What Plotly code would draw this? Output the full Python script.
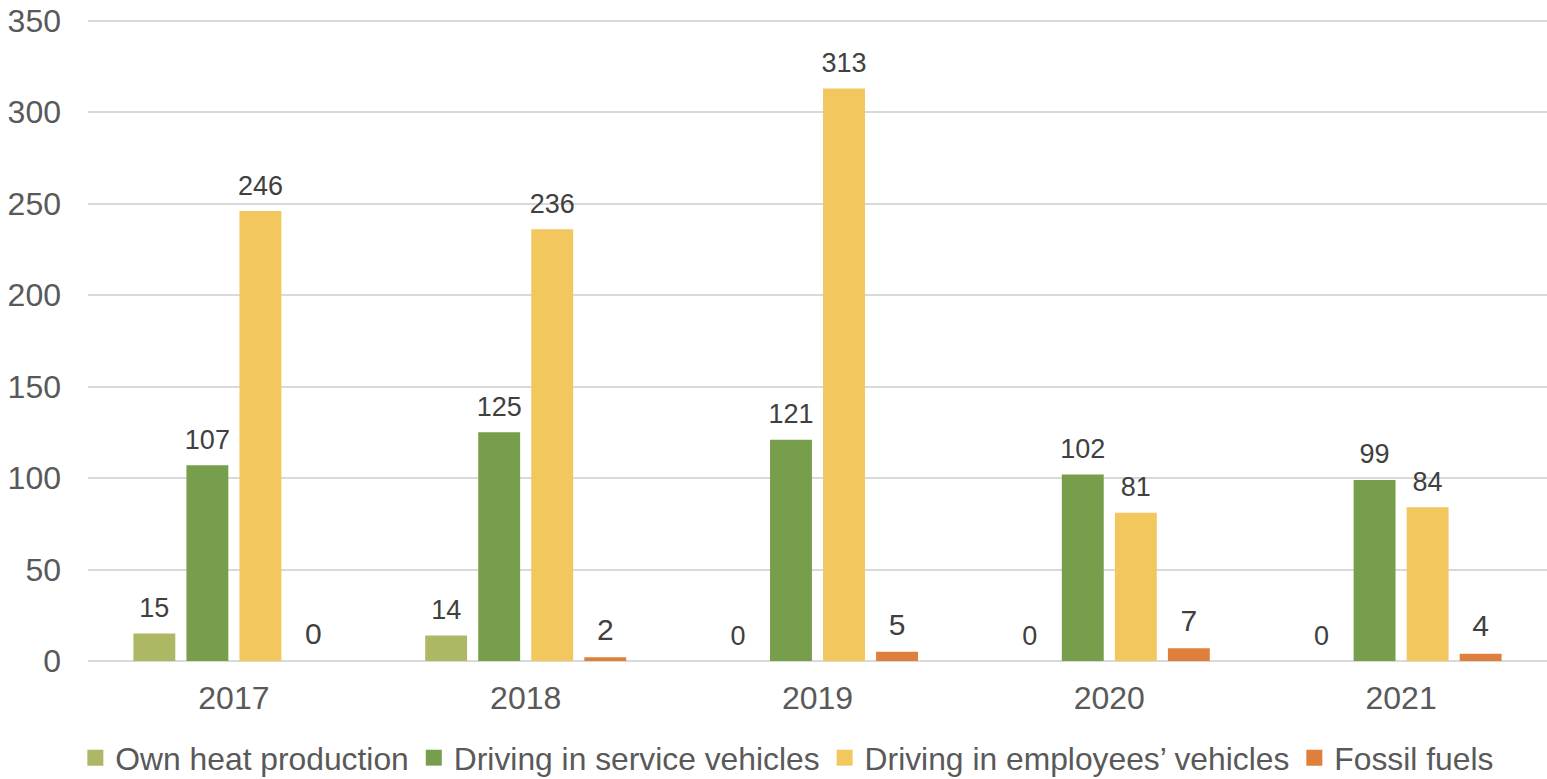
import plotly.graph_objects as go

years = ["2017", "2018", "2019", "2020", "2021"]
own_heat = [15, 14, 0, 0, 0]
service_vehicles = [107, 125, 121, 102, 99]
employee_vehicles = [246, 236, 313, 81, 84]
fossil_fuels = [0, 2, 5, 7, 4]

series = [
    ("Own heat production", own_heat, "#AEB864", 27),
    ("Driving in service vehicles", service_vehicles, "#779E4A", 27),
    ("Driving in employees\u2019 vehicles", employee_vehicles, "#F1C75E", 27),
    ("Fossil fuels", fossil_fuels, "#E07F3B", 30),
]

font_family = "Arial, Liberation Sans, sans-serif"
cat_gap = 0.273

fig = go.Figure()
for i, (name, values, color, label_size) in enumerate(series):
    fig.add_trace(go.Bar(
        name=name,
        x=years,
        y=values,
        marker=dict(color=color, line=dict(width=0)),
        offsetgroup=str(i),
        alignmentgroup="g",
        showlegend=False,
        legendgroup=name,
        hoverinfo="skip",
    ))

# Value labels: text points aligned with the bar groups, lifted above each bar
for i, (name, values, color, label_size) in enumerate(series):
    fig.add_trace(go.Scatter(
        x=years,
        y=values,
        mode="markers+text",
        marker=dict(size=14, opacity=0, color=color),
        text=[str(v) for v in values],
        textposition="top center",
        textfont=dict(family=font_family, size=label_size, color="#404040"),
        offsetgroup=str(i),
        alignmentgroup="g",
        cliponaxis=False,
        showlegend=False,
        hoverinfo="skip",
    ))

# Legend entries with larger square swatches
for name, values, color, _ in series:
    fig.add_trace(go.Scatter(
        name=name,
        x=[None],
        y=[None],
        mode="markers",
        marker=dict(symbol="square", size=16, color=color),
        legendgroup=name,
        showlegend=True,
    ))

fig.update_layout(
    width=1547,
    height=779,
    barmode="group",
    bargap=cat_gap,
    bargroupgap=0.21,
    scattermode="group",
    scattergap=cat_gap,
    plot_bgcolor="white",
    paper_bgcolor="white",
    margin=dict(l=88, r=0, t=19, b=118),
    font=dict(family=font_family, color="#595959"),
    showlegend=True,
    legend=dict(
        orientation="h",
        x=0.479,
        xanchor="center",
        yref="container",
        y=0.027,
        yanchor="middle",
        font=dict(size=31.8, color="#595959"),
        itemwidth=30,
        traceorder="normal",
    ),
    xaxis=dict(
        showgrid=False,
        showline=False,
        zeroline=False,
        tickfont=dict(size=32, color="#595959"),
        ticks="",
        ticklabelstandoff=15,
    ),
    yaxis=dict(
        range=[0, 351],
        tickvals=[0, 50, 100, 150, 200, 250, 300, 350],
        showgrid=True,
        gridcolor="#D9D9D9",
        gridwidth=1.5,
        zeroline=True,
        zerolinecolor="#D9D9D9",
        zerolinewidth=2,
        showline=False,
        ticks="",
        tickfont=dict(size=32, color="#595959"),
        ticklabelstandoff=26,
    ),
)

fig.write_html("out.html")
